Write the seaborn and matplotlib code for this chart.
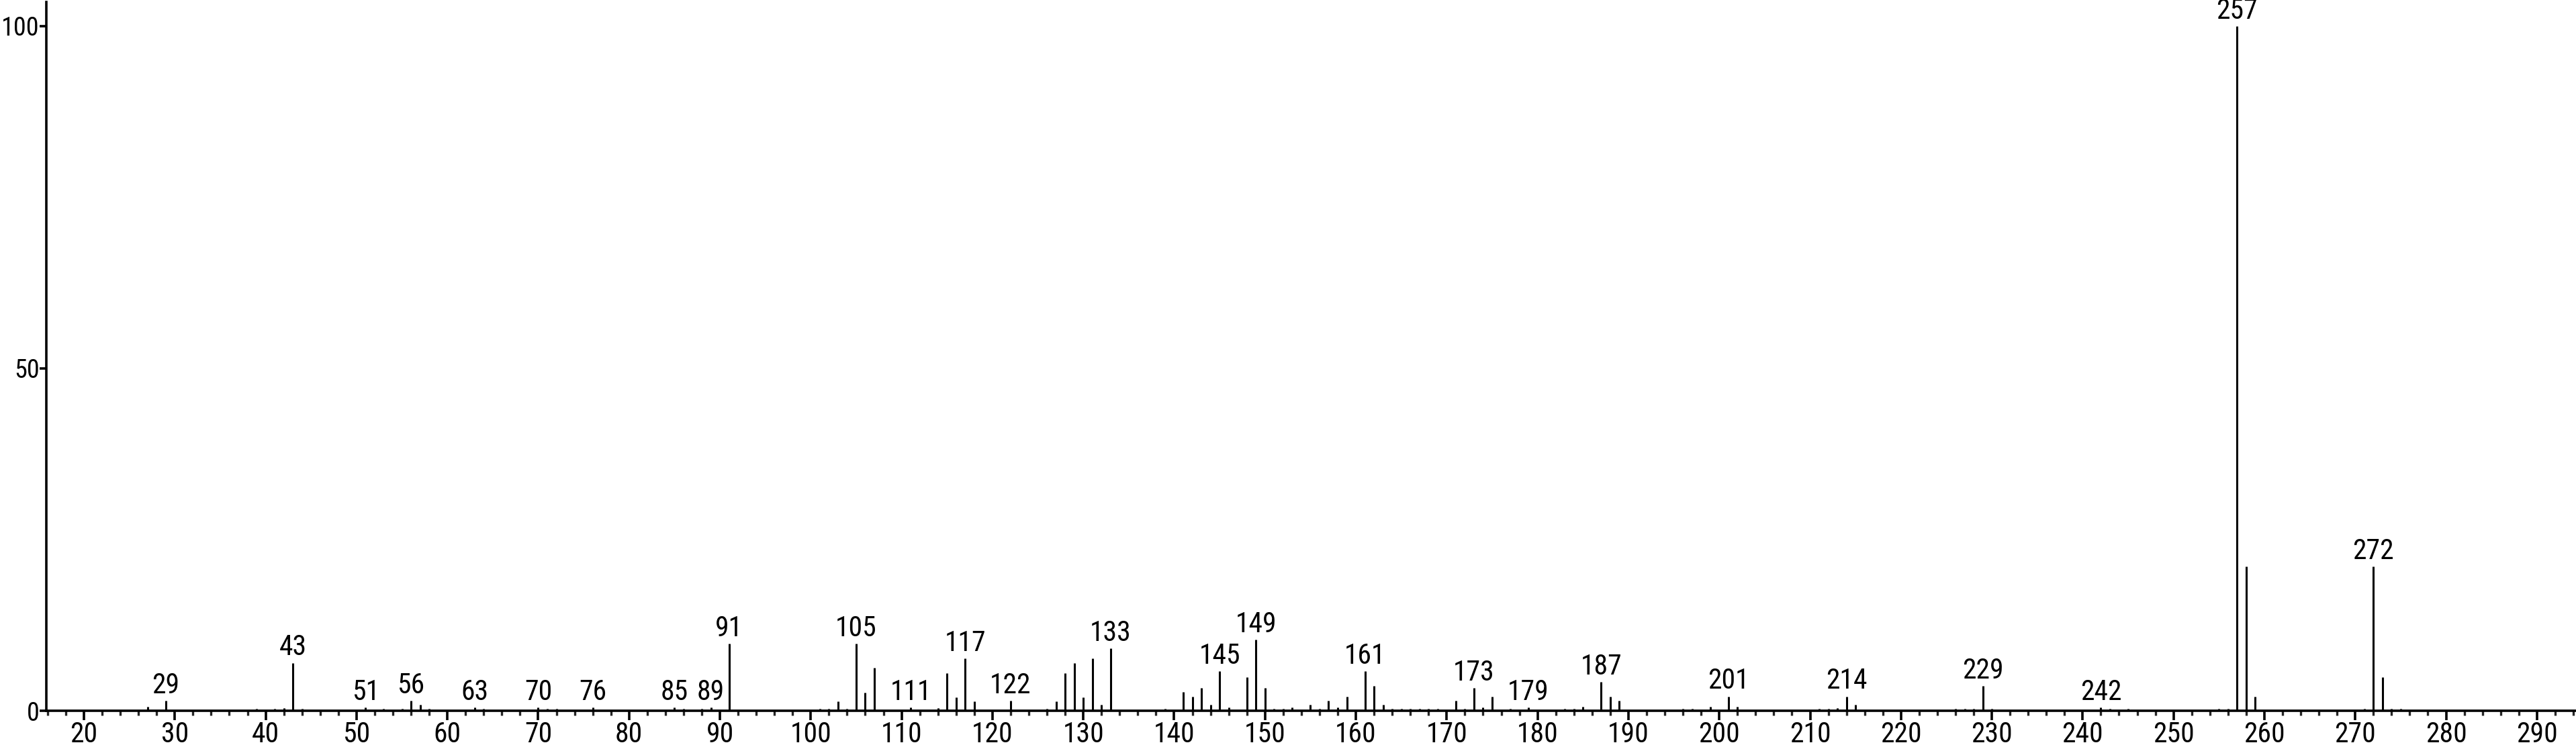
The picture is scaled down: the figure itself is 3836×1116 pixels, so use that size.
"""Mass spectrum stick chart."""
import matplotlib
matplotlib.use("Agg")
import matplotlib.pyplot as plt
from matplotlib import font_manager
from matplotlib.ticker import MultipleLocator
import seaborn as sns

sns.set_theme(style="ticks")
installed = {f.name for f in font_manager.fontManager.ttflist}
narrow = [f for f in ("Liberation Sans Narrow", "Roboto Condensed", "Liberation Sans")
          if f in installed]
plt.rcParams["font.family"] = narrow[:1] + ["DejaVu Sans"]

# m/z values and relative intensities (%)
mz = [27, 29, 39, 41, 42, 43, 44, 51, 53, 55, 56, 57, 58, 63, 64, 70, 71, 72,
      76, 85, 86, 88, 89, 91, 101, 102, 103, 104, 105, 106, 107, 111, 114,
      115, 116, 117, 118, 122, 126, 127, 128, 129, 130, 131, 132, 133, 139,
      141, 142, 143, 144, 145, 146, 148, 149, 150, 151, 152, 153, 155, 156,
      157, 158, 159, 161, 162, 163, 164, 165, 166, 167, 168, 169, 171, 172,
      173, 174, 175, 177, 179, 183, 184, 185, 187, 188, 189, 196, 197, 199,
      201, 202, 211, 212, 213, 214, 215, 226, 227, 228, 229, 230, 242, 243,
      245, 255, 256, 257, 258, 259, 271, 272, 273, 274, 275]
intensity = [0.6, 1.5, 0.3, 0.3, 0.4, 7.0, 0.3, 0.5, 0.3, 0.3, 1.5, 0.9, 0.3,
             0.5, 0.3, 0.5, 0.3, 0.3, 0.5, 0.5, 0.3, 0.3, 0.5, 9.8, 0.3, 0.3,
             1.4, 0.3, 9.8, 2.6, 6.3, 0.5, 0.4, 5.5, 2.0, 7.6, 1.4, 1.5, 0.3,
             1.4, 5.5, 7.0, 2.0, 7.6, 0.9, 9.1, 0.3, 2.7, 2.1, 3.3, 0.9, 5.8,
             0.5, 4.9, 10.4, 3.3, 0.3, 0.3, 0.5, 0.9, 0.3, 1.5, 0.5, 2.1, 5.8,
             3.6, 0.9, 0.3, 0.3, 0.3, 0.3, 0.3, 0.3, 1.5, 0.3, 3.3, 0.5, 2.1,
             0.3, 0.5, 0.3, 0.3, 0.6, 4.2, 2.1, 1.5, 0.3, 0.3, 0.6, 2.1, 0.6,
             0.3, 0.3, 0.4, 2.1, 0.9, 0.3, 0.3, 0.3, 3.6, 0.3, 0.5, 0.3, 0.3,
             0.3, 0.3, 100.0, 21.1, 2.1, 0.3, 21.1, 4.9, 0.3, 0.3]
labelled = [29, 43, 51, 56, 63, 70, 76, 85, 89, 91, 105, 111, 117, 122, 133,
            145, 149, 161, 173, 179, 187, 201, 214, 229, 242, 257, 272]
y_ticks = [0, 50, 100]

W, H = 3836, 1116
FS = 30
FS_Y = 27.5
fig = plt.figure(figsize=(W / 100, H / 100), dpi=100)
ax = fig.add_axes([69 / W, 57 / H, 1 - 69 / W, (1059 - 3) / H])

ax.vlines(mz, 0, intensity, color="black", linewidth=2.2)
peaks = dict(zip(mz, intensity))
for m in labelled:
    ax.annotate(str(m), (m, peaks[m]), xytext=(0, 1.5), textcoords="offset points",
                ha="center", va="bottom", fontsize=FS, color="black")

ax.set_xlim(15.86, 294.3)
ax.set_ylim(0, 103.5)
ax.xaxis.set_major_locator(MultipleLocator(10))
ax.xaxis.set_minor_locator(MultipleLocator(2))
ax.set_xticks(range(20, 300, 10))
ax.set_yticks(y_ticks)
ax.set_xlabel(""); ax.set_ylabel("")

for s in ("top", "right"):
    ax.spines[s].set_visible(False)
for s in ("left", "bottom"):
    ax.spines[s].set_linewidth(2.6)
    ax.spines[s].set_color("black")
ax.tick_params(axis="x", which="major", length=10, width=2.6, pad=1,
               labelsize=FS, colors="black")
ax.tick_params(axis="x", which="minor", length=5, width=2.4)
ax.tick_params(axis="y", which="major", length=7, width=2.6, pad=0.5,
               labelsize=FS_Y, colors="black")

fig.savefig("out.png", dpi=100, facecolor="white")
plt.close(fig)
